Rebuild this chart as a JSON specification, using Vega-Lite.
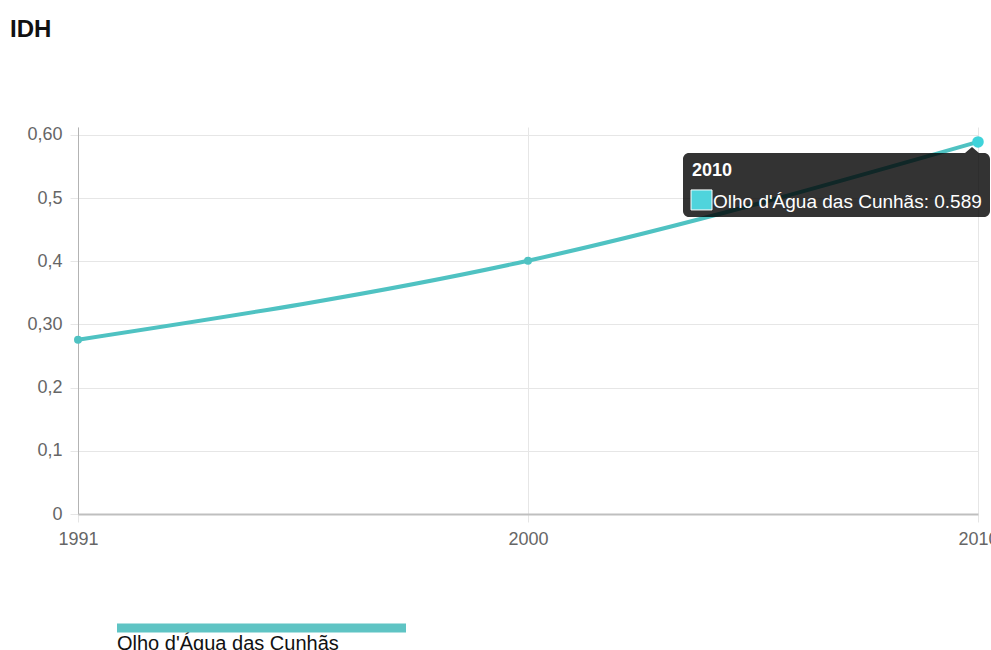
{
  "$schema": "https://vega.github.io/schema/vega-lite/v6.json",
  "autosize": {"type": "none"},
  "width": 913,
  "height": 387,
  "padding": {"left": 78, "top": 127, "right": 0, "bottom": 136},
  "background": "#ffffff",
  "title": {
    "text": "IDH",
    "anchor": "start",
    "frame": "group",
    "font": "Liberation Sans",
    "fontSize": 24,
    "fontWeight": "bold",
    "color": "#111111",
    "baseline": "alphabetic",
    "offset": 65,
    "dx": -68
  },
  "config": {
    "view": {"stroke": null},
    "font": "Liberation Sans",
    "axis": {
      "labelFont": "Liberation Sans",
      "labelFontSize": 18,
      "labelColor": "#666666",
      "gridColor": "#e6e6e6",
      "gridWidth": 1,
      "tickColor": "#e6e6e6",
      "tickSize": 8,
      "title": null
    }
  },
  "datasets": {
    "serie": [
      {"ano": "1991", "idh": 0.276, "municipio": "Olho d'Água das Cunhãs"},
      {"ano": "2000", "idh": 0.401, "municipio": "Olho d'Água das Cunhãs"},
      {"ano": "2010", "idh": 0.589, "municipio": "Olho d'Água das Cunhãs"}
    ],
    "dica": [
      {"ano": "2010", "idh": 0.589, "titulo": "2010", "texto": "Olho d'Água das Cunhãs: 0.589"}
    ]
  },
  "encoding": {
    "x": {
      "field": "ano",
      "type": "ordinal",
      "scale": {"type": "point", "range": [0, 900], "padding": 0},
      "axis": {
        "grid": true,
        "labelAngle": 0,
        "labelPadding": 8,
        "domainColor": "#bfbfbf",
        "domainWidth": 2
      }
    },
    "y": {
      "field": "idh",
      "type": "quantitative",
      "scale": {"domain": [0, 0.61266], "nice": false, "zero": true},
      "axis": {
        "values": [0, 0.1, 0.2, 0.3, 0.4, 0.5, 0.6],
        "grid": true,
        "labelPadding": 8,
        "domainColor": "#b3b3b3",
        "domainWidth": 1,
        "labelExpr": "round(datum.value*10)==6 ? '0,60' : round(datum.value*10)==3 ? '0,30' : round(datum.value*10)==0 ? '0' : replace(format(datum.value,'.1f'),'.',',')"
      }
    }
  },
  "layer": [
    {
      "data": {"name": "serie"},
      "mark": {"type": "line", "interpolate": "monotone", "strokeWidth": 4},
      "encoding": {
        "color": {
          "field": "municipio",
          "type": "nominal",
          "scale": {"range": ["#4fc2c2"]},
          "legend": {
            "orient": "none",
            "legendX": 39,
            "legendY": 378,
            "title": null,
            "direction": "vertical",
            "symbolType": "M-1,-0.1799H1V-0.1176H-1Z",
            "symbolSize": 83521,
            "symbolStrokeWidth": 0,
            "symbolOffset": 0,
            "labelOffset": -289,
            "labelLimit": 0,
            "labelFont": "Liberation Sans",
            "labelFontSize": 20,
            "labelColor": "#111111",
            "labelBaseline": "alphabetic",
            "padding": 0,
            "encode": {
              "symbols": {
                "update": {
                  "fill": {"value": "#5fc4c4"},
                  "stroke": {"value": "transparent"},
                  "strokeWidth": {"value": 0},
                  "opacity": {"value": 1}
                }
              }
            }
          }
        }
      }
    },
    {
      "data": {"name": "serie"},
      "mark": {"type": "point", "filled": true, "opacity": 1, "size": 64, "color": "#4fc2c2"}
    },
    {
      "data": {"name": "dica"},
      "mark": {
        "type": "point",
        "shape": "M-289,11H-13L-6,5L1,11H6A6,6 0 0 1 12,17V69A6,6 0 0 1 6,75H-289A6,6 0 0 1 -295,69V17A6,6 0 0 1 -289,11Z",
        "size": 4,
        "filled": true,
        "fill": "#000000",
        "opacity": 0.8,
        "strokeWidth": 0
      }
    },
    {
      "data": {"name": "dica"},
      "mark": {
        "type": "point",
        "shape": "M-287,48H-266V68H-287Z",
        "size": 4,
        "filled": true,
        "fill": "#4fd4dc",
        "stroke": "#ffffff",
        "strokeWidth": 1,
        "opacity": 1
      }
    },
    {
      "data": {"name": "dica"},
      "mark": {
        "type": "text",
        "align": "left",
        "baseline": "alphabetic",
        "dx": -286,
        "dy": 34,
        "font": "Liberation Sans",
        "fontSize": 18,
        "fontWeight": "bold",
        "color": "#ffffff"
      },
      "encoding": {"text": {"field": "titulo"}}
    },
    {
      "data": {"name": "dica"},
      "mark": {
        "type": "text",
        "align": "left",
        "baseline": "alphabetic",
        "dx": -265,
        "dy": 66,
        "font": "Liberation Sans",
        "fontSize": 19,
        "color": "#ffffff"
      },
      "encoding": {"text": {"field": "texto"}}
    },
    {
      "data": {"name": "dica"},
      "mark": {"type": "point", "filled": true, "opacity": 1, "size": 133, "color": "#3fd3da"}
    }
  ]
}
